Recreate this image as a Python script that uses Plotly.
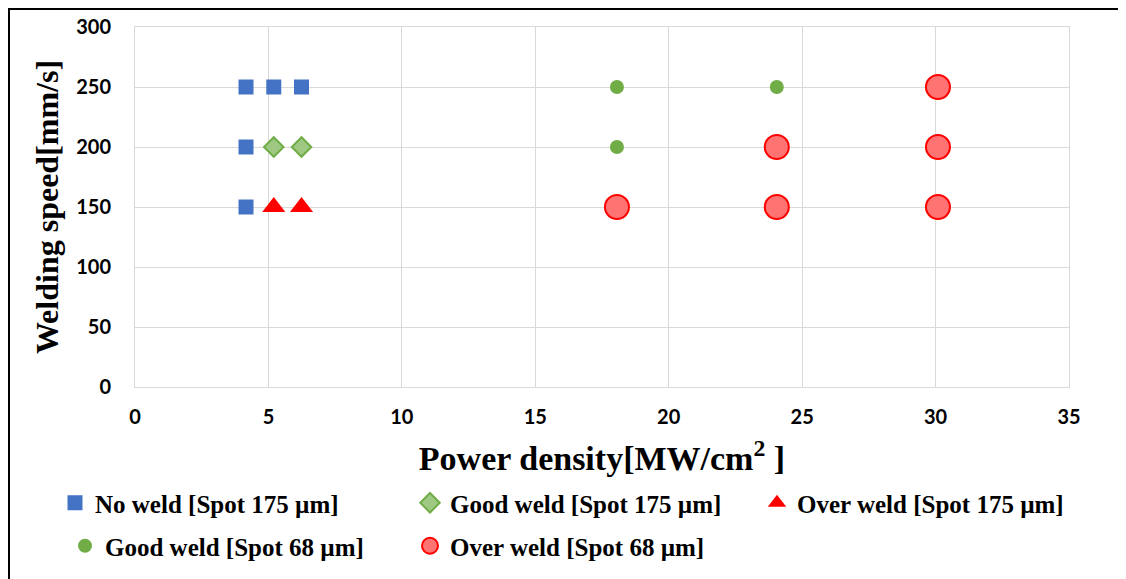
import plotly.graph_objects as go

# ---- data ----
no_weld_175_x = [4.16, 5.2, 6.24, 4.16, 4.16]
no_weld_175_y = [250, 250, 250, 200, 150]

good_weld_175_x = [5.2, 6.24]
good_weld_175_y = [200, 200]

over_weld_175_x = [5.2, 6.24]
over_weld_175_y = [150, 150]

good_weld_68_x = [18.06, 18.06, 24.05]
good_weld_68_y = [250, 200, 250]

over_weld_68_x = [18.06, 24.05, 24.05, 30.09, 30.09, 30.09]
over_weld_68_y = [150, 200, 150, 250, 200, 150]

x_title = "Power density[MW/cm<sup>2</sup> ]"
y_title = "Welding speed[mm/s]"

BLUE = "#4472c4"
GREEN = "#70ad47"
RED = "#ff0000"

fig = go.Figure()

fig.add_trace(go.Scatter(
    x=no_weld_175_x, y=no_weld_175_y, mode="markers",
    name="No weld [Spot 175 µm]", legend="legend",
    marker=dict(symbol="square", size=15, color=BLUE, line=dict(width=0))))
fig.add_trace(go.Scatter(
    x=good_weld_175_x, y=good_weld_175_y, mode="markers",
    name="Good weld [Spot 175 µm]", legend="legend2",
    marker=dict(symbol="diamond", size=15, color="#9fc983", line=dict(width=2, color=GREEN))))
fig.add_trace(go.Scatter(
    x=over_weld_175_x, y=over_weld_175_y, mode="markers",
    name="Over weld [Spot 175 µm]", legend="legend3",
    marker=dict(symbol="triangle-up", size=20, color=RED, line=dict(width=0))))
fig.add_trace(go.Scatter(
    x=good_weld_68_x, y=good_weld_68_y, mode="markers",
    name="Good weld [Spot 68 µm]", legend="legend4",
    marker=dict(symbol="circle", size=14, color=GREEN, line=dict(width=0))))
fig.add_trace(go.Scatter(
    x=over_weld_68_x, y=over_weld_68_y, mode="markers",
    name="Over weld [Spot 68 µm]", legend="legend5",
    marker=dict(symbol="circle", size=24, color="#ff7373", line=dict(width=2, color=RED))))

legend_font = dict(family="Liberation Serif", size=25, color="black", weight="bold")

# page body has an 8px margin; all pixel targets below are reference pixels
OFF = 8
L0 = 135 - OFF
W = 934
T = 27 - OFF
H = 360


def px_x(p):
    return (p - OFF - L0) / W


def px_y(p):
    return (T + H - (p - OFF)) / H


def leg(x, y):
    return dict(x=px_x(x), y=px_y(y), xanchor="left", yanchor="middle",
                xref="paper", yref="paper", visible=True,
                font=legend_font, bgcolor="rgba(0,0,0,0)", borderwidth=0,
                itemwidth=30, orientation="h")


tick_font = dict(family="Lato", size=20, color="black", weight="bold")
x_title_font = dict(family="Liberation Serif", size=34, color="black", weight="bold")
y_title_font = dict(family="Liberation Serif", size=32, color="black", weight="bold")

fig.update_layout(
    width=1126, height=579,
    margin=dict(l=L0, r=1126 - L0 - W, t=T, b=579 - T - H, autoexpand=False),
    paper_bgcolor="white", plot_bgcolor="white",
    showlegend=True,
    legend=leg(55, 503),
    legend2=leg(410, 503),
    legend3=leg(757, 503),
    legend4=leg(65, 546),
    legend5=leg(410, 546),
    xaxis=dict(range=[0, 35], dtick=5, tick0=0, showgrid=True, gridcolor="#d9d9d9",
               gridwidth=1, zeroline=False, showline=True, mirror=True,
               linecolor="#d9d9d9", linewidth=1, ticks="", automargin=False,
               tickfont=tick_font, ticklabelstandoff=12,
               title=dict(text=x_title, font=x_title_font, standoff=19)),
    yaxis=dict(range=[0, 300], dtick=50, tick0=0, showgrid=True, gridcolor="#d9d9d9",
               gridwidth=1, zeroline=False, showline=True, mirror=True,
               linecolor="#d9d9d9", linewidth=1, ticks="", automargin=False,
               tickfont=tick_font, ticklabelstandoff=19,
               title=dict(text=y_title, font=y_title_font, standoff=7)),
    shapes=[dict(type="rect", xref="paper", yref="paper",
                 x0=px_x(OFF + 1), x1=px_x(1145), y0=px_y(600), y1=px_y(OFF + 1),
                 line=dict(color="black", width=2), fillcolor="rgba(0,0,0,0)",
                 layer="above")],
)

fig.write_html("out.html")
